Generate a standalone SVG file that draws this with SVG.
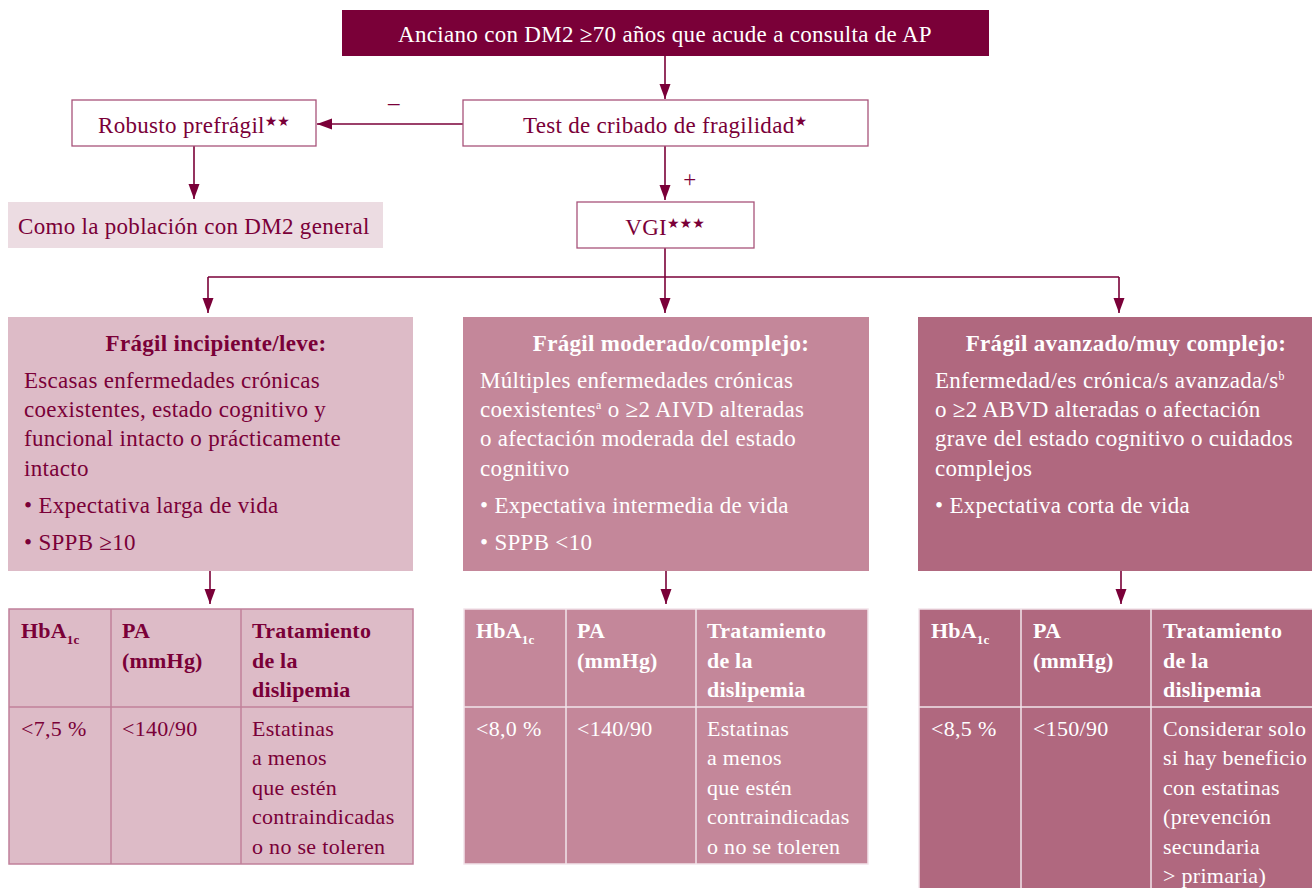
<svg xmlns="http://www.w3.org/2000/svg" width="1312" height="888" viewBox="0 0 1312 888">
<defs>
<marker id="arr" markerUnits="userSpaceOnUse" markerWidth="16" markerHeight="12" refX="15" refY="5.5" orient="auto">
<path d="M0,0 L15,5.5 L0,11 z" fill="#7a0038"/>
</marker>
<style>
text{font-family:"Liberation Serif","Times New Roman",serif;font-size:23px;letter-spacing:0.3px;}
.dk{fill:#7a0038;}
.wt{fill:#ffffff;}
.b{font-weight:bold;}
.mid{text-anchor:middle;}
.tb{font-size:22px;}
.th{font-size:22px;font-weight:bold;letter-spacing:0.2px;}
.star{font-family:"DejaVu Sans",sans-serif;font-size:14px;letter-spacing:0;}
.sub{font-size:13px;}
.sup{font-size:12px;}
.obox{fill:#ffffff;stroke:#a8537a;stroke-width:1.3;}
.conn{stroke:#7a0038;stroke-width:1.6;fill:none;}
</style>
</defs>
<rect width="1312" height="888" fill="#ffffff"/>

<g id="connectors">
<line class="conn" x1="665" y1="56" x2="665" y2="99" marker-end="url(#arr)"/>
<line class="conn" x1="463" y1="124" x2="317" y2="124" marker-end="url(#arr)"/>
<line class="conn" x1="194" y1="146" x2="194" y2="199" marker-end="url(#arr)"/>
<line class="conn" x1="665" y1="146" x2="665" y2="200" marker-end="url(#arr)"/>
<polyline class="conn" points="665,248 665,277"/>
<line class="conn" x1="208" y1="277" x2="1119" y2="277"/>
<line class="conn" x1="208" y1="277" x2="208" y2="313" marker-end="url(#arr)"/>
<line class="conn" x1="665" y1="277" x2="665" y2="313" marker-end="url(#arr)"/>
<line class="conn" x1="1119" y1="277" x2="1119" y2="313" marker-end="url(#arr)"/>
<line class="conn" x1="210" y1="571" x2="210" y2="604" marker-end="url(#arr)"/>
<line class="conn" x1="666" y1="571" x2="666" y2="604" marker-end="url(#arr)"/>
<line class="conn" x1="1121" y1="571" x2="1121" y2="604" marker-end="url(#arr)"/>
<text class="dk" x="394" y="110" text-anchor="middle">–</text>
<text class="dk" x="690" y="187" text-anchor="middle" font-size="20">+</text>
</g>

<g id="start">
<rect x="342" y="10" width="647" height="46" fill="#7a0038"/>
<text class="wt mid" x="665" y="42">Anciano con DM2 ≥70 años que acude a consulta de AP</text>
</g>

<g id="test">
<rect class="obox" x="463" y="100" width="405" height="46"/>
<text class="dk mid" x="665" y="133">Test de cribado de fragilidad<tspan class="star" dy="-7">★</tspan></text>
</g>

<g id="robusto">
<rect class="obox" x="72" y="100" width="244" height="46"/>
<text class="dk mid" x="194" y="133">Robusto prefrágil<tspan class="star" dy="-7">★★</tspan></text>
</g>

<g id="general">
<rect x="8" y="202" width="375" height="46" fill="#ecdce2"/>
<text class="dk" x="18" y="234">Como la población con DM2 general</text>
</g>

<g id="vgi">
<rect class="obox" x="577" y="202" width="177" height="46"/>
<text class="dk mid" x="665" y="235">VGI<tspan class="star" dy="-7">★★★</tspan></text>
</g>

<g id="fragil-leve">
<rect x="8" y="317" width="405" height="254" fill="#ddbbc7"/>
<text class="dk b mid" x="216" y="351">Frágil incipiente/leve:</text>
<text class="dk" x="24" y="388">Escasas enfermedades crónicas</text>
<text class="dk" x="24" y="417">coexistentes, estado cognitivo y</text>
<text class="dk" x="24" y="446">funcional intacto o prácticamente</text>
<text class="dk" x="24" y="476">intacto</text>
<text class="dk" x="24" y="513">• Expectativa larga de vida</text>
<text class="dk" x="24" y="550">• SPPB ≥10</text>
</g>

<g id="fragil-moderado">
<rect x="463" y="317" width="406" height="254" fill="#c4879a"/>
<text class="wt b mid" x="671" y="351">Frágil moderado/complejo:</text>
<text class="wt" x="480" y="388">Múltiples enfermedades crónicas</text>
<text class="wt" x="480" y="417">coexistentes<tspan class="sup" dy="-8">a</tspan><tspan dy="8"> o ≥2 AIVD alteradas</tspan></text>
<text class="wt" x="480" y="446">o afectación moderada del estado</text>
<text class="wt" x="480" y="476">cognitivo</text>
<text class="wt" x="480" y="513">• Expectativa intermedia de vida</text>
<text class="wt" x="480" y="550">• SPPB &lt;10</text>
</g>

<g id="fragil-avanzado">
<rect x="918" y="317" width="400" height="254" fill="#b0687f"/>
<text class="wt b mid" x="1126" y="351">Frágil avanzado/muy complejo:</text>
<text class="wt" x="935" y="388">Enfermedad/es crónica/s avanzada/s<tspan class="sup" dy="-8">b</tspan></text>
<text class="wt" x="935" y="417">o ≥2 ABVD alteradas o afectación</text>
<text class="wt" x="935" y="446">grave del estado cognitivo o cuidados</text>
<text class="wt" x="935" y="476">complejos</text>
<text class="wt" x="935" y="513">• Expectativa corta de vida</text>
</g>

<g id="tabla-leve">
<rect x="9" y="609" width="404" height="255" fill="#ddbbc7" stroke="#c0809a" stroke-width="1.5"/>
<line x1="9" y1="707" x2="413" y2="707" stroke="#c0809a" stroke-width="1.5"/>
<line x1="111" y1="609" x2="111" y2="864" stroke="#c0809a" stroke-width="1.5"/>
<line x1="241" y1="609" x2="241" y2="864" stroke="#c0809a" stroke-width="1.5"/>
<text class="dk th" x="21" y="638">HbA<tspan class="sub" dy="6">1c</tspan></text>
<text class="dk th" x="122" y="638">PA</text>
<text class="dk th" x="122" y="668">(mmHg)</text>
<text class="dk th" x="252" y="638">Tratamiento</text>
<text class="dk th" x="252" y="668">de la</text>
<text class="dk th" x="252" y="697">dislipemia</text>
<text class="dk tb" x="21" y="736">&lt;7,5 %</text>
<text class="dk tb" x="122" y="736">&lt;140/90</text>
<text class="dk tb" x="252" y="736">Estatinas</text>
<text class="dk tb" x="252" y="765">a menos</text>
<text class="dk tb" x="252" y="795">que estén</text>
<text class="dk tb" x="252" y="824">contraindicadas</text>
<text class="dk tb" x="252" y="854">o no se toleren</text>
</g>

<g id="tabla-moderado">
<rect x="464" y="609" width="404" height="255" fill="#c4879a" stroke="#f2e4ea" stroke-width="1.5"/>
<line x1="464" y1="707" x2="868" y2="707" stroke="#f2e4ea" stroke-width="1.5"/>
<line x1="566" y1="609" x2="566" y2="864" stroke="#f2e4ea" stroke-width="1.5"/>
<line x1="696" y1="609" x2="696" y2="864" stroke="#f2e4ea" stroke-width="1.5"/>
<text class="wt th" x="476" y="638">HbA<tspan class="sub" dy="6">1c</tspan></text>
<text class="wt th" x="577" y="638">PA</text>
<text class="wt th" x="577" y="668">(mmHg)</text>
<text class="wt th" x="707" y="638">Tratamiento</text>
<text class="wt th" x="707" y="668">de la</text>
<text class="wt th" x="707" y="697">dislipemia</text>
<text class="wt tb" x="476" y="736">&lt;8,0 %</text>
<text class="wt tb" x="577" y="736">&lt;140/90</text>
<text class="wt tb" x="707" y="736">Estatinas</text>
<text class="wt tb" x="707" y="765">a menos</text>
<text class="wt tb" x="707" y="795">que estén</text>
<text class="wt tb" x="707" y="824">contraindicadas</text>
<text class="wt tb" x="707" y="854">o no se toleren</text>
</g>

<g id="tabla-avanzado">
<rect x="919" y="609" width="400" height="290" fill="#b0687f" stroke="#f2e4ea" stroke-width="1.5"/>
<line x1="919" y1="707" x2="1312" y2="707" stroke="#f2e4ea" stroke-width="1.5"/>
<line x1="1021" y1="609" x2="1021" y2="888" stroke="#f2e4ea" stroke-width="1.5"/>
<line x1="1151" y1="609" x2="1151" y2="888" stroke="#f2e4ea" stroke-width="1.5"/>
<text class="wt th" x="931" y="638">HbA<tspan class="sub" dy="6">1c</tspan></text>
<text class="wt th" x="1033" y="638">PA</text>
<text class="wt th" x="1033" y="668">(mmHg)</text>
<text class="wt th" x="1163" y="638">Tratamiento</text>
<text class="wt th" x="1163" y="668">de la</text>
<text class="wt th" x="1163" y="697">dislipemia</text>
<text class="wt tb" x="931" y="736">&lt;8,5 %</text>
<text class="wt tb" x="1033" y="736">&lt;150/90</text>
<text class="wt tb" x="1163" y="736">Considerar solo</text>
<text class="wt tb" x="1163" y="765">si hay beneficio</text>
<text class="wt tb" x="1163" y="795">con estatinas</text>
<text class="wt tb" x="1163" y="824">(prevención</text>
<text class="wt tb" x="1163" y="854">secundaria</text>
<text class="wt tb" x="1163" y="883">&gt; primaria)</text>
</g>
</svg>
